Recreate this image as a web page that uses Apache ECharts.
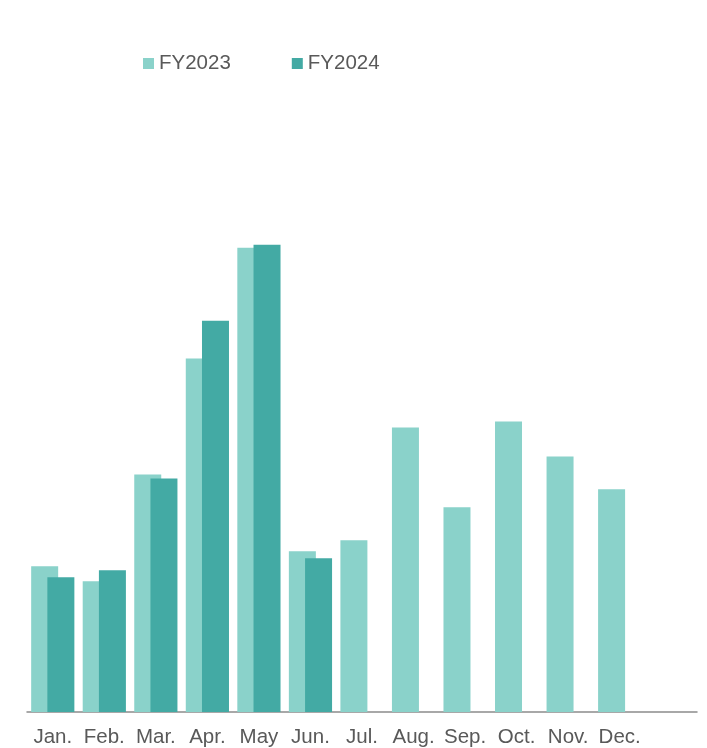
<!DOCTYPE html>
<html><head><meta charset="utf-8">
<script src="https://cdn.jsdelivr.net/npm/echarts@6/dist/echarts.min.js"></script>
<style>html,body{margin:0;padding:0;background:#fff}#c{width:707px;height:748px}</style>
</head><body><div id="c"></div>
<script>
const categories = ['Jan.','Feb.','Mar.','Apr.','May','Jun.','Jul.','Aug.','Sep.','Oct.','Nov.','Dec.',''];
const seriesNames = ['FY2023','FY2024'];
const fy2023 = [146, 131, 238, 354, 465, 161, 172, 285, 205, 291, 256, 223, null];
const fy2024 = [135, 142, 234, 392, 468, 154, null, null, null, null, null, null, null];
const yMax = 613;

const chart = echarts.init(document.getElementById('c'), null, {renderer:'canvas'});
const font = "'Liberation Sans', Arial, sans-serif";
chart.setOption({
  animation:false,
  textStyle:{fontFamily:font},
  legend:{
    data:seriesNames, left:138, top:48, itemWidth:11, itemHeight:11, itemGap:61,
    icon:'rect',
    textStyle:{fontSize:20.5, color:'#595959', fontFamily:font}
  },
  grid:{left:27, right:10, top:100, bottom:35, containLabel:false},
  xAxis:{
    type:'category', data:categories,
    axisLine:{lineStyle:{color:'#8c8c8c', width:1.5}},
    axisTick:{show:false},
    axisLabel:{fontSize:20.5, color:'#595959', margin:15, fontFamily:font, interval:0}
  },
  yAxis:{type:'value', min:0, max:yMax, show:false, splitLine:{show:false}},
  series:[
    {name:seriesNames[0], type:'bar', data:fy2023, barWidth:27, barGap:'-40%',
     itemStyle:{color:'#8AD2CA'}},
    {name:seriesNames[1], type:'bar', data:fy2024, barWidth:27, barGap:'-40%',
     itemStyle:{color:'#43AAA4'}}
  ]
});
</script></body></html>
